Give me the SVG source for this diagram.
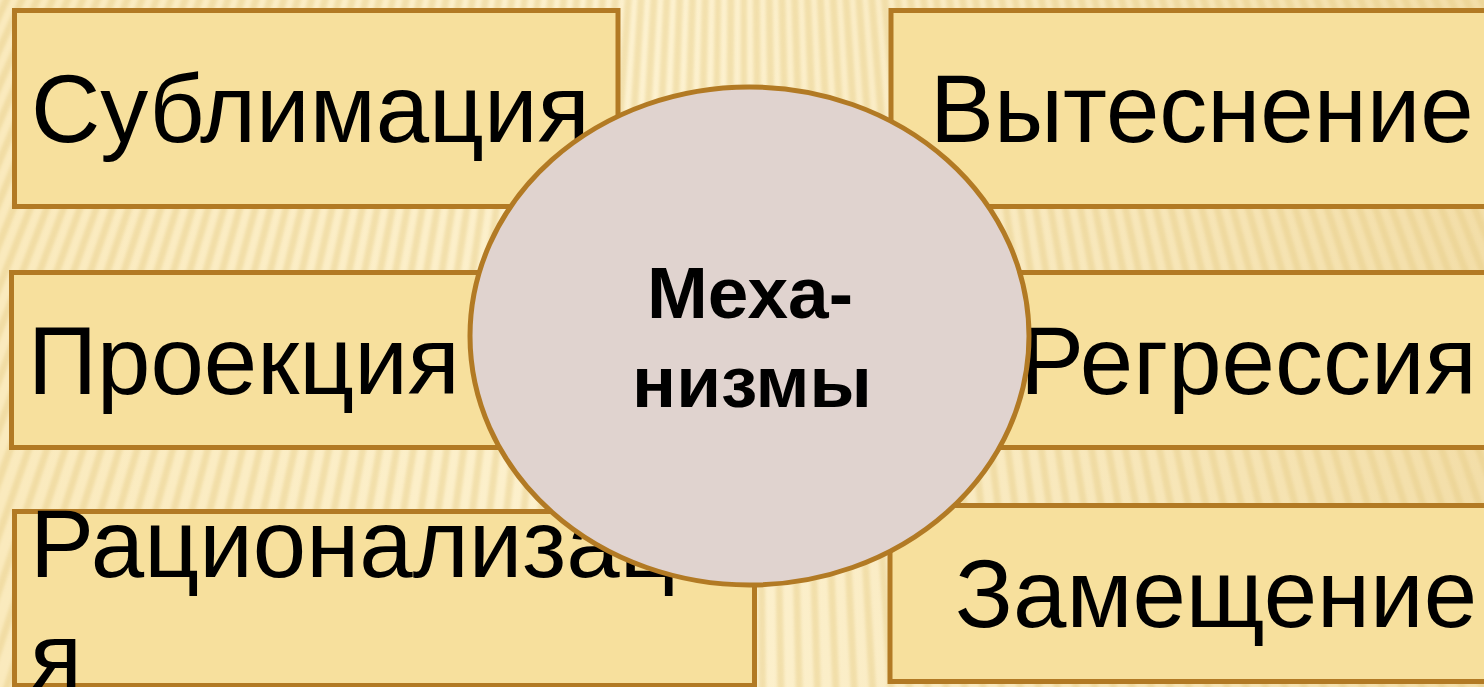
<svg xmlns="http://www.w3.org/2000/svg" width="1484" height="687" viewBox="0 0 1484 687">
  <style>
    .box { fill: #F7E09D; stroke: #B27A24; stroke-width: 5; }
    .lbl { font-family: "Liberation Sans", Arial, sans-serif; font-size: 96px; fill: #000; }
    .hub { fill: #E0D3CF; stroke: #B27A24; stroke-width: 5; }
    .hubtxt { font-family: "Liberation Sans", Arial, sans-serif; font-size: 73px; font-weight: bold; fill: #000; text-anchor: middle; }
  </style>
  <defs>
    <linearGradient id="bg" x1="0" y1="0" x2="1" y2="0">
      <stop offset="0" stop-color="#FAEABD"/>
      <stop offset="0.45" stop-color="#FDF2D0"/>
      <stop offset="1" stop-color="#F3DEA8"/>
    </linearGradient>
    <filter id="soft" x="-10%" y="-10%" width="120%" height="120%">
      <feGaussianBlur stdDeviation="1.6"/>
    </filter>
  </defs>

  <!-- background -->
  <rect x="0" y="0" width="1484" height="687" fill="url(#bg)"/>
  <circle cx="742" cy="-1600" r="2000" fill="none" stroke="#E6CC86" stroke-width="1300" stroke-dasharray="7 9" opacity="0.45" filter="url(#soft)"/>

  <g id="connectors"></g>

  <g id="node-sublimation">
    <rect class="box" x="14.5" y="10.5" width="603.5" height="196"/>
    <text class="lbl" x="31" y="142">Сублимация</text>
  </g>
  <g id="node-repression">
    <rect class="box" x="891" y="10.5" width="620" height="196"/>
    <text class="lbl" x="930" y="142">Вытеснение</text>
  </g>
  <g id="node-projection">
    <rect class="box" x="11.5" y="272.5" width="600" height="175"/>
    <text class="lbl" x="28" y="394">Проекция</text>
  </g>
  <g id="node-regression">
    <rect class="box" x="900" y="272.5" width="620" height="175"/>
    <text class="lbl" x="1020" y="394">Регрессия</text>
  </g>
  <g id="node-rationalization">
    <rect class="box" x="14.5" y="511.5" width="740" height="174"/>
    <text class="lbl" x="30" y="577">Рационализаци</text>
    <text class="lbl" x="30" y="690">я</text>
  </g>
  <g id="node-substitution">
    <rect class="box" x="890" y="505.5" width="620" height="176"/>
    <text class="lbl" x="955" y="627">Замещение</text>
  </g>

  <g id="node-center">
    <ellipse class="hub" cx="749.5" cy="336" rx="279.5" ry="249"/>
    <text class="hubtxt" x="750" y="318">Меха-</text>
    <text class="hubtxt" x="752" y="407">низмы</text>
  </g>
</svg>
